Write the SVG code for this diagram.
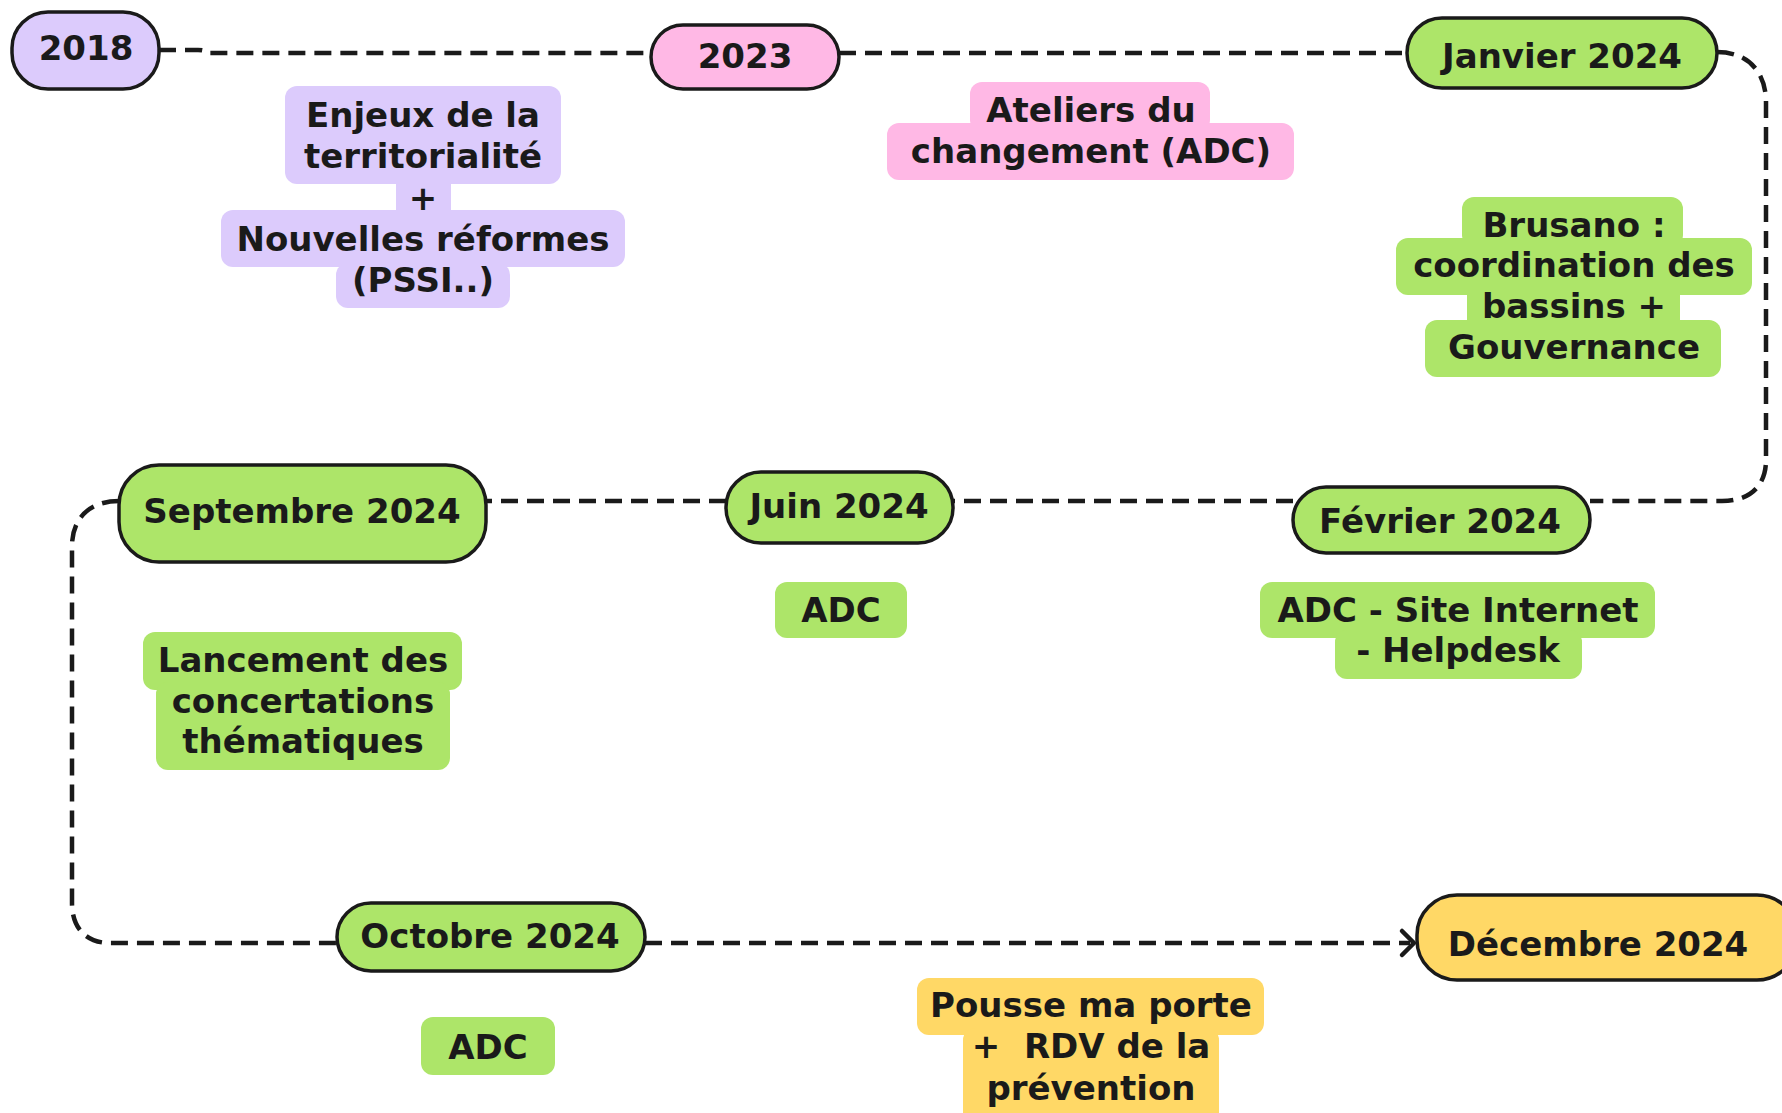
<svg xmlns="http://www.w3.org/2000/svg" width="1782" height="1113" viewBox="0 0 1782 1113">
<style>
text{font-family:"DejaVu Sans","Liberation Sans",sans-serif;font-weight:bold;font-size:34px;fill:#1a1a1a;text-anchor:middle}
.pill{stroke:#1a1a1a;stroke-width:3.5}
.lav{fill:#dccbfc}.pink{fill:#ffb8e5}.green{fill:#ade569}.yellow{fill:#ffd866}
.conn{fill:none;stroke:#1a1a1a;stroke-width:4.5;stroke-dasharray:17 9}
</style>
<rect width="1782" height="1113" fill="#ffffff"/>
<g id="connectors">
<path class="conn" d="M159,50 H198 Q205,50 208,53 H651"/>
<path class="conn" d="M839,53 H1407"/>
<path class="conn" d="M1717,52 C1748,52 1766,72 1766,102 V460 C1766,486 1750,501 1722,501 H1590"/>
<path class="conn" d="M1293,501 H953"/>
<path class="conn" d="M726,501 H486"/>
<path class="conn" d="M119,501 C90,501 72,518 72,546 V903 C72,928 86,943 110,943 H337"/>
<path class="conn" d="M645,943 H1410"/>
<polyline points="1402,931 1414,943 1402,955" fill="none" stroke="#1a1a1a" stroke-width="4.5" stroke-linecap="round" stroke-linejoin="round"/>
</g>
<g id="n2018">
<rect class="pill lav" x="12" y="12" width="147" height="77" rx="36"/>
<text x="86" y="60">2018</text>
</g>
<g id="n2023">
<rect class="pill pink" x="651" y="25" width="188" height="64" rx="32"/>
<text x="745" y="68">2023</text>
</g>
<g id="janvier">
<rect class="pill green" x="1407" y="18" width="310" height="70" rx="35"/>
<text x="1562" y="68">Janvier 2024</text>
</g>
<g id="septembre">
<rect class="pill green" x="119" y="465" width="367" height="97" rx="40"/>
<text x="302" y="523">Septembre 2024</text>
</g>
<g id="juin">
<rect class="pill green" x="726" y="472" width="227" height="71" rx="35"/>
<text x="839" y="518">Juin 2024</text>
</g>
<g id="fevrier">
<rect class="pill green" x="1293" y="487" width="297" height="66" rx="33"/>
<text x="1440" y="533">Février 2024</text>
</g>
<g id="octobre">
<rect class="pill green" x="337" y="903" width="308" height="68" rx="34"/>
<text x="490" y="948">Octobre 2024</text>
</g>
<g id="decembre">
<rect class="pill yellow" x="1417" y="895" width="380" height="85" rx="40"/>
<text x="1598" y="956">Décembre 2024</text>
</g>
<g id="enjeux">
<rect class="lav" x="285" y="86" width="276" height="98" rx="12"/>
<rect class="lav" x="396" y="180" width="55" height="34"/>
<rect class="lav" x="221" y="210" width="404" height="57" rx="12"/>
<rect class="lav" x="336" y="263" width="174" height="45" rx="12"/>
<text x="423" y="127">Enjeux de la</text>
<text x="423" y="168">territorialité</text>
<text x="423" y="210">+</text>
<text x="423" y="251">Nouvelles réformes</text>
<text x="423" y="292">(PSSI..)</text>
</g>
<g id="ateliers">
<rect class="pink" x="970" y="82" width="240" height="50" rx="12"/>
<rect class="pink" x="887" y="123" width="407" height="57" rx="12"/>
<text x="1091" y="122">Ateliers du</text>
<text x="1091" y="163">changement (ADC)</text>
</g>
<g id="brusano">
<rect class="green" x="1462" y="197" width="221" height="50" rx="12"/>
<rect class="green" x="1396" y="238" width="356" height="57" rx="12"/>
<rect class="green" x="1467" y="290" width="213" height="35"/>
<rect class="green" x="1425" y="320" width="296" height="57" rx="12"/>
<text x="1574" y="237">Brusano :</text>
<text x="1574" y="277">coordination des</text>
<text x="1574" y="318">bassins +</text>
<text x="1574" y="359">Gouvernance</text>
</g>
<g id="lancement">
<rect class="green" x="143" y="632" width="319" height="58" rx="12"/>
<rect class="green" x="156" y="682" width="294" height="88" rx="12"/>
<text x="303" y="672">Lancement des</text>
<text x="303" y="713">concertations</text>
<text x="303" y="753">thématiques</text>
</g>
<g id="juin-adc">
<rect class="green" x="775" y="582" width="132" height="56" rx="12"/>
<text x="841" y="622">ADC</text>
</g>
<g id="fevrier-adc">
<rect class="green" x="1260" y="582" width="395" height="56" rx="12"/>
<rect class="green" x="1335" y="630" width="247" height="49" rx="12"/>
<text x="1458" y="622">ADC - Site Internet</text>
<text x="1458" y="662">- Helpdesk</text>
</g>
<g id="octobre-adc">
<rect class="green" x="421" y="1017" width="134" height="58" rx="12"/>
<text x="488" y="1059">ADC</text>
</g>
<g id="pousse">
<rect class="yellow" x="917" y="978" width="347" height="57" rx="12"/>
<rect class="yellow" x="963" y="1028" width="256" height="100" rx="12"/>
<text x="1091" y="1017">Pousse ma porte</text>
<text x="1091" y="1058" xml:space="preserve" style="white-space:pre">+  RDV de la</text>
<text x="1091" y="1100">prévention</text>
</g>
</svg>
